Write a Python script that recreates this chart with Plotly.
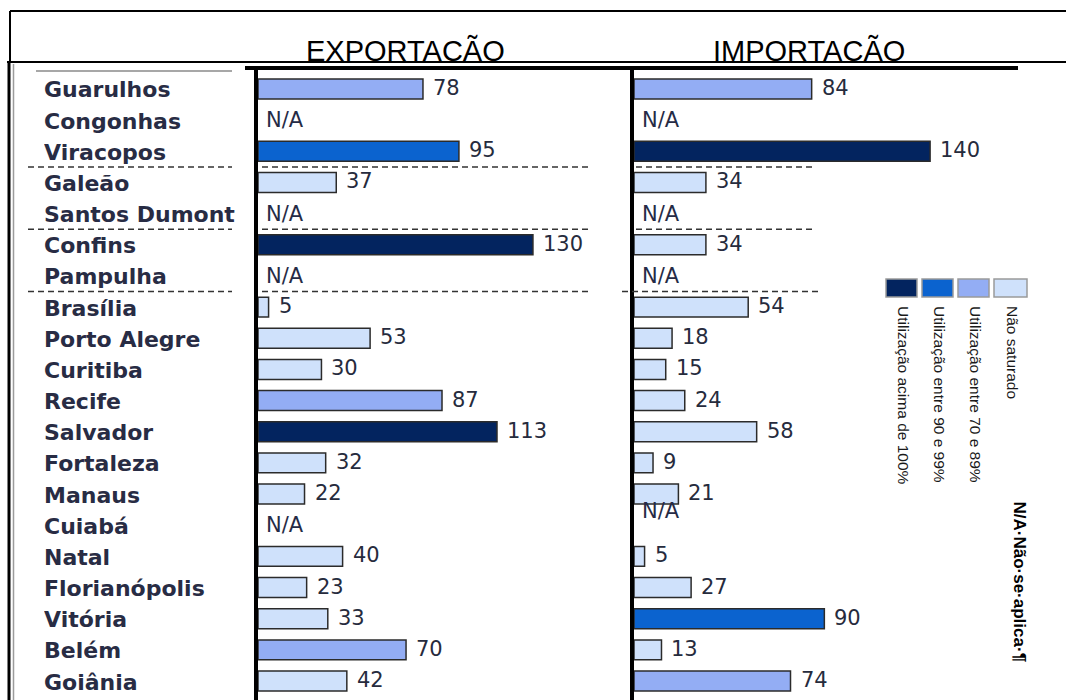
import plotly.graph_objects as go

# ---- data -------------------------------------------------------------
airports = [
    "Guarulhos", "Congonhas", "Viracopos", "Galeão", "Santos Dumont",
    "Confins", "Pampulha", "Brasília", "Porto Alegre", "Curitiba",
    "Recife", "Salvador", "Fortaleza", "Manaus", "Cuiabá", "Natal",
    "Florianópolis", "Vitória", "Belém", "Goiânia",
]
# None = N/A (não se aplica)
export_vals = [78, None, 95, 37, None, 130, None, 5, 53, 30,
               87, 113, 32, 22, None, 40, 23, 33, 70, 42]
import_vals = [84, None, 140, 34, None, 34, None, 54, 18, 15,
               24, 58, 9, 21, None, 5, 27, 90, 13, 74]
# utilisation class: 0 não saturado, 1 70-89%, 2 90-99%, 3 acima de 100%
export_cls = [1, None, 2, 0, None, 3, None, 0, 0, 0,
              1, 3, 0, 0, None, 0, 0, 0, 1, 0]
import_cls = [1, None, 3, 0, None, 0, None, 0, 0, 0,
              0, 0, 0, 0, None, 0, 0, 2, 0, 1]

class_labels = ["Não saturado", "Utilização entre 70 e 89%",
                "Utilização entre 90 e 99%", "Utilização acima de 100%"]
class_colors = ["#cfe1fb", "#93adf4", "#0b63cf", "#03245f"]

panel_titles = ["EXPORTACÃO", "IMPORTACÃO"]
na_text = "N/A"
na_note = "N/A·Não·se·aplica·¶"

# ---- geometry helpers (pixel -> paper) -------------------------------
W, H = 1066, 700


def px(x):
    return x / W


def py(y):
    return 1 - y / H


PX_PER_UNIT = 2.115
EXP_X0, IMP_X0 = 258, 634
EXP_MAX, IMP_MAX = 160, 180
ROW_TOP, ROW_BOTTOM = 73.4, 696.6
NAME_DROP = 3  # airport names sit a little lower than the bar centres

NAME_FONT = dict(family="DejaVu Sans", size=22, color="#282c44", weight="bold")
VAL_FONT = dict(family="DejaVu Sans", size=21, color="#262b3d")
NA_FONT = dict(family="DejaVu Sans", size=21, color="#262b46")
BAR_LINE = dict(color="#2b2b2b", width=1.5)

fig = go.Figure()


def bar_colors(cls):
    return [class_colors[c] if c is not None else "rgba(0,0,0,0)" for c in cls]


fig.add_trace(go.Bar(
    x=export_vals, y=airports, orientation="h", xaxis="x", yaxis="y",
    marker=dict(color=bar_colors(export_cls), line=BAR_LINE),
    width=0.64, showlegend=False, hoverinfo="skip",
))
fig.add_trace(go.Bar(
    x=import_vals, y=airports, orientation="h", xaxis="x2", yaxis="y",
    marker=dict(color=bar_colors(import_cls), line=BAR_LINE),
    width=0.64, showlegend=False, hoverinfo="skip",
))

# airport names, clipped to their column
fig.add_trace(go.Scatter(
    x=[0] * len(airports), y=airports, mode="text", text=airports,
    textposition="middle right", textfont=NAME_FONT, cliponaxis=True,
    xaxis="x3", yaxis="y2", showlegend=False, hoverinfo="skip",
))

annotations = []
for axis, vals in (("x", export_vals), ("x2", import_vals)):
    for name, v in zip(airports, vals):
        if v is None:
            shift = 14 if (axis == "x2" and name == "Cuiabá") else 0
            annotations.append(dict(
                x=0, y=name, xref=axis, yref="y", text=na_text,
                xanchor="left", yanchor="middle", xshift=6, yshift=shift,
                showarrow=False, font=NA_FONT))
        else:
            annotations.append(dict(
                x=v, y=name, xref=axis, yref="y", text=str(v),
                xanchor="left", yanchor="middle", xshift=8, yshift=1,
                showarrow=False, font=VAL_FONT))

# panel titles
for title, cx in zip(panel_titles, (405, 809)):
    annotations.append(dict(
        x=px(cx), y=py(69), xref="paper", yref="paper", text=title,
        xanchor="center", yanchor="bottom", showarrow=False,
        font=dict(family="Liberation Sans", size=29, color="#000000")))

# legend: swatches with vertical captions
shapes = []
swatch_x = [(886, 917), (922, 953), (958, 989), (994, 1027)]
legend_order = [3, 2, 1, 0]
for (x0, x1), c in zip(swatch_x, legend_order):
    shapes.append(dict(type="rect", xref="paper", yref="paper",
                       x0=px(x0), x1=px(x1), y0=py(297), y1=py(279),
                       fillcolor=class_colors[c],
                       line=dict(color="#9a9a9a", width=1.5)))
    annotations.append(dict(
        x=px((x0 + x1) / 2 + 2), y=py(304), xref="paper", yref="paper",
        text=class_labels[c], textangle=90, xanchor="center", yanchor="top",
        showarrow=False,
        font=dict(family="Liberation Sans", size=15.5, color="#1a1a1a")))

annotations.append(dict(
    x=px(1019), y=py(499), xref="paper", yref="paper", text=na_note,
    textangle=90, xanchor="center", yanchor="top", showarrow=False,
    font=dict(family="Liberation Sans", size=17, color="#000000", weight="bold")))


def pline(x0, y0, x1, y1, color="#000000", width=2, dash=None):
    ln = dict(color=color, width=width)
    if dash:
        ln["dash"] = dash
    return dict(type="line", xref="paper", yref="paper",
                x0=px(x0), y0=py(y0), x1=px(x1), y1=py(y1), line=ln)


# frame and rules
shapes += [
    pline(10, 11, 1066, 11),
    pline(10, 11, 10, 62),
    pline(7, 62, 1066, 62),
    pline(9, 62, 9, 700, width=3),
    pline(13.5, 64, 13.5, 700, color="#9c9c9c", width=1.5),
    pline(36, 71, 232, 71, color="#8a8a8a", width=1.5),
    pline(245, 68, 1018, 68, width=4),
    pline(256, 67, 256, 700, width=4),
    pline(632, 67, 632, 700, width=4),
]

# dashed group separators
for sep, imp_span in ((2.5, (636, 815)), (4.5, (636, 815)), (6.5, (622, 820))):
    for x0, x1 in ((28, 232), (262, 590), imp_span):
        shapes.append(dict(type="line", xref="paper", yref="y",
                           x0=px(x0), x1=px(x1), y0=sep, y1=sep,
                           line=dict(color="#333333", width=1.5, dash="6px,4px")))

y_range = [len(airports) - 0.5, -0.5]
y_common = dict(type="category", categoryorder="array",
                categoryarray=airports, range=y_range, visible=False)

fig.update_layout(
    width=W, height=H,
    margin=dict(l=0, r=0, t=0, b=0),
    paper_bgcolor="#ffffff", plot_bgcolor="rgba(0,0,0,0)",
    showlegend=False,
    barmode="overlay",
    xaxis=dict(domain=[px(EXP_X0), px(EXP_X0 + PX_PER_UNIT * EXP_MAX)],
               range=[0, EXP_MAX], visible=False, anchor="y"),
    xaxis2=dict(domain=[px(IMP_X0), px(IMP_X0 + PX_PER_UNIT * IMP_MAX)],
                range=[0, IMP_MAX], visible=False, anchor="y"),
    xaxis3=dict(domain=[px(44), px(240)], range=[0, 1], visible=False,
                anchor="y2"),
    yaxis=dict(domain=[py(ROW_BOTTOM), py(ROW_TOP)], **y_common),
    yaxis2=dict(domain=[py(ROW_BOTTOM + NAME_DROP), py(ROW_TOP + NAME_DROP)],
                anchor="x3", **y_common),
    annotations=annotations,
    shapes=shapes,
)

fig.write_html("out.html")
